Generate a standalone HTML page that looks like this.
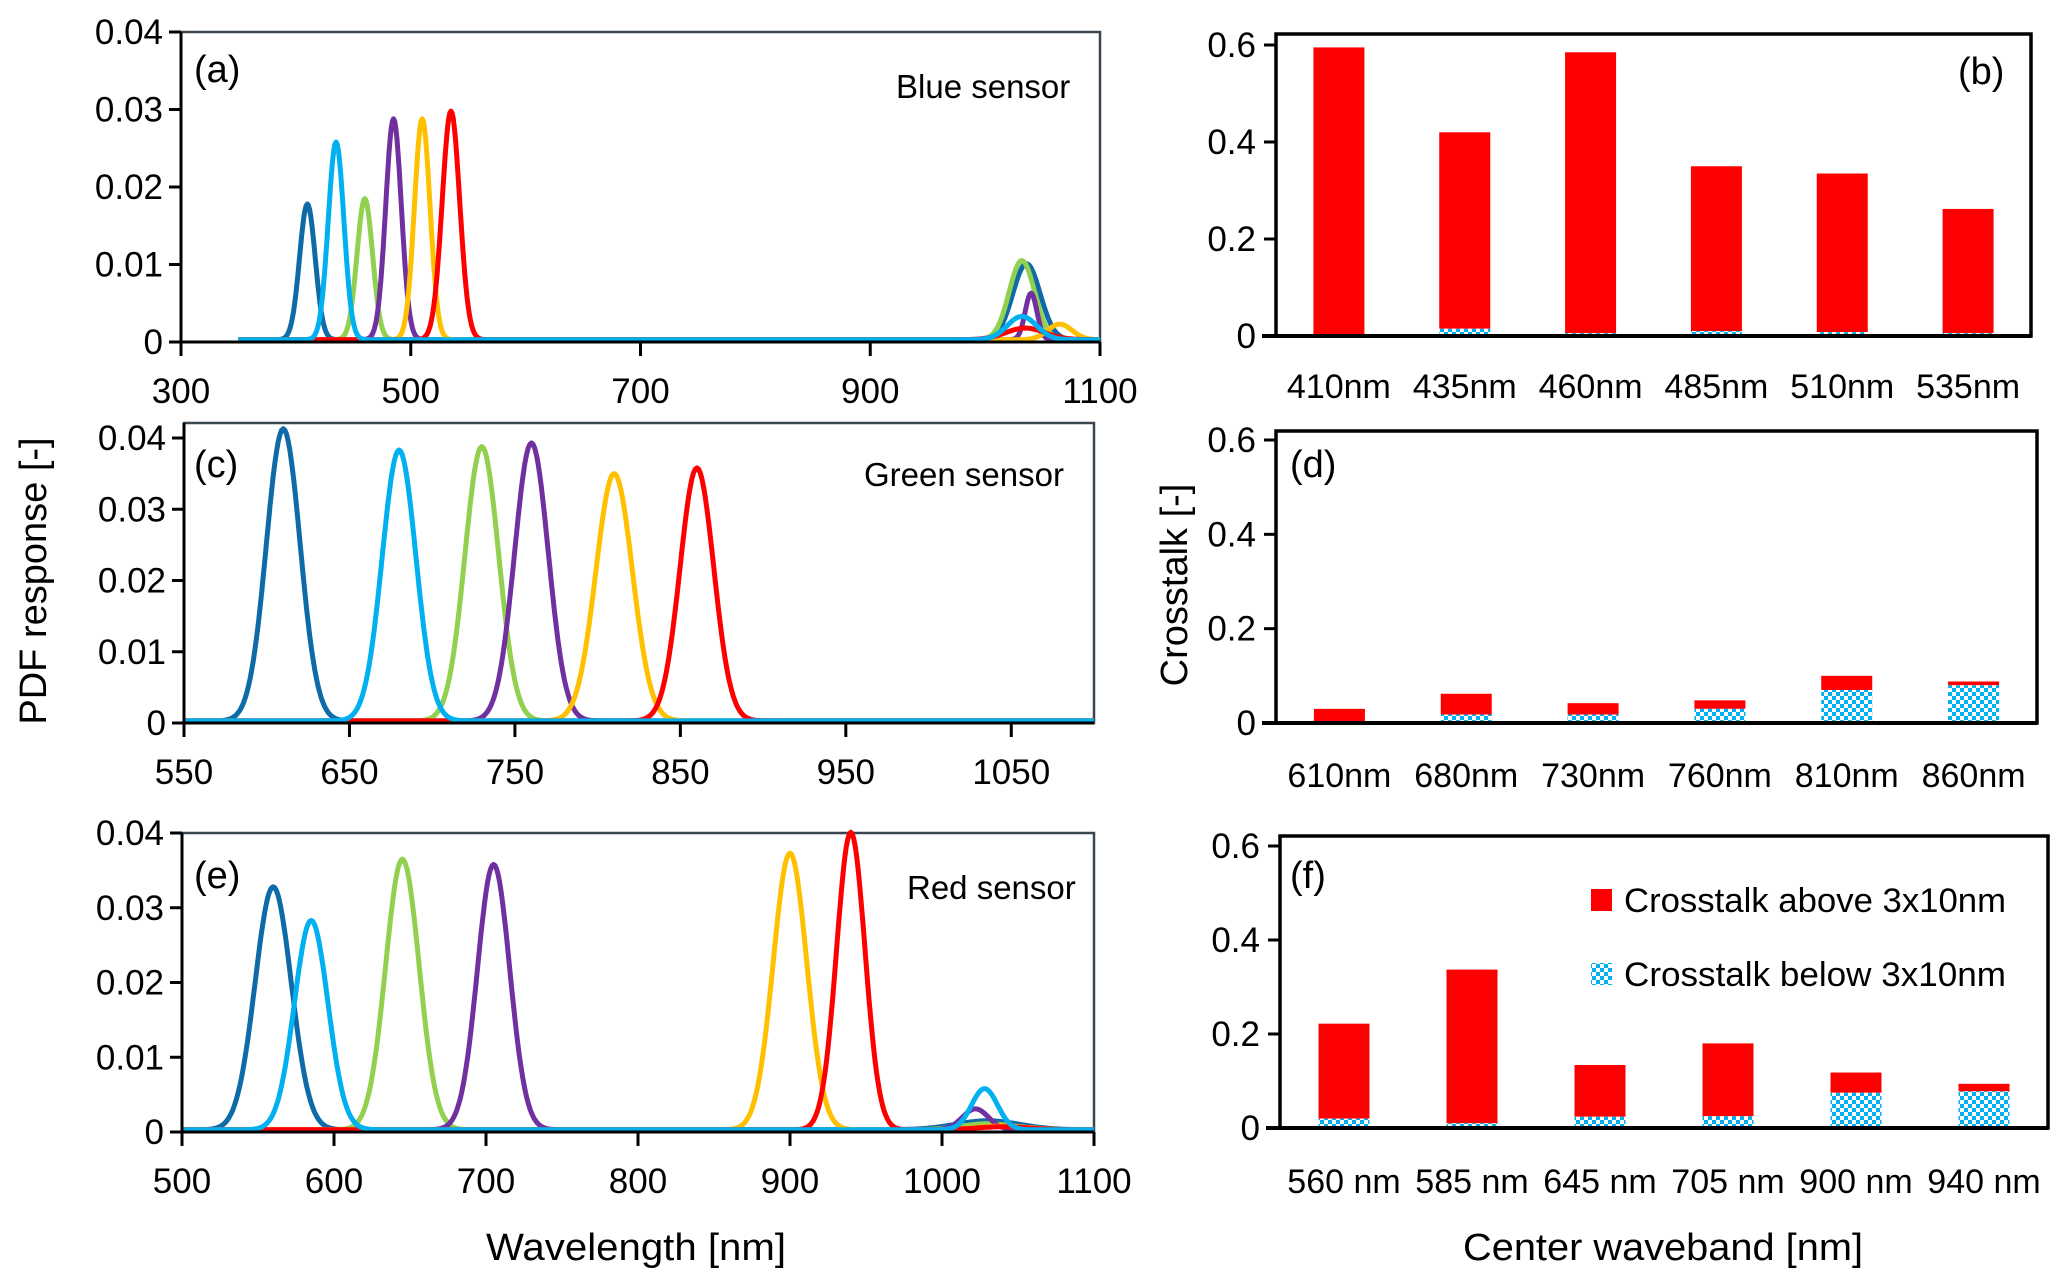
<!DOCTYPE html>
<html><head><meta charset="utf-8">
<style>
html,body{margin:0;padding:0;background:#fff;}
svg{display:block;font-family:"Liberation Sans Narrow","Liberation Sans",sans-serif;}
</style></head>
<body>
<svg id="fig" width="2067" height="1282" viewBox="0 0 2067 1282" xmlns="http://www.w3.org/2000/svg">
<defs>
<pattern id="chk" width="8" height="8" patternUnits="userSpaceOnUse">
<rect width="8" height="8" fill="#fff"/>
<rect width="4" height="4" fill="#00b0f0"/>
<rect x="4" y="4" width="4" height="4" fill="#00b0f0"/>
</pattern>
</defs>
</svg>
<script>
// ---- data: spectral panels ----
const seriesColors = ['#0f6aa8','#00b0f0','#92d050','#7030a0','#ffc000','#ff0000'];
const drawOrder = [0,2,3,4,5,1];
// panel a (blue sensor)
const aCenters = [410,435,460,485,510,535];
const aPeaks = [0.0175,0.0255,0.0182,0.0285,0.0285,0.0295];
const aFwhm = [16,16,16,16,16,18];
const aBumpCenters = [1036,1032,1032,1040,1065,1035];
const aBumpPeaks = [0.0098,0.003,0.0102,0.006,0.002,0.0015];
const aBumpFwhm = [28,30,26,12,25,40];
// panel c (green sensor)
const cCenters = [610,680,730,760,810,860];
const cPeaks = [0.041,0.038,0.0385,0.039,0.0347,0.0355];
const cFwhm = [24,24,24,24,26,24];
// panel e (red sensor)
const eCenters = [560,585,645,705,900,940];
const ePeaks = [0.0325,0.028,0.0362,0.0355,0.037,0.0398];
const eFwhm = [28,26,26,25,26,22];
const eBumpCenters = [1030,1028,1030,1022,1040,1040];
const eBumpPeaks = [0.0012,0.0055,0.0008,0.0028,0.0005,0.0004];
const eBumpFwhm = [50,20,40,20,40,40];
// ---- data: crosstalk bars ----
const bLabels = ['410nm','435nm','460nm','485nm','510nm','535nm'];
const bTotal = [0.595,0.42,0.585,0.35,0.335,0.262];
const bBelow = [0.003,0.015,0.006,0.01,0.008,0.006];
const dLabels = ['610nm','680nm','730nm','760nm','810nm','860nm'];
const dTotal = [0.03,0.062,0.042,0.048,0.1,0.088];
const dBelow = [0.004,0.018,0.018,0.03,0.07,0.08];
const fLabels = ['560 nm','585 nm','645 nm','705 nm','900 nm','940 nm'];
const fTotal = [0.222,0.337,0.134,0.18,0.118,0.094];
const fBelow = [0.02,0.01,0.024,0.025,0.075,0.078];
const lineTicksA = [300,500,700,900,1100];
const lineTicksC = [550,650,750,850,950,1050];
const lineTicksE = [500,600,700,800,900,1000,1100];
const yTicksLine = [0,0.01,0.02,0.03,0.04];
const yTicksBar = [0,0.2,0.4,0.6];

const NS='http://www.w3.org/2000/svg';
const svg=document.getElementById('fig');
function el(tag,attrs,parent){const e=document.createElementNS(NS,tag);for(const k in attrs)e.setAttribute(k,attrs[k]);(parent||svg).appendChild(e);return e;}
function txt(s,x,y,size,anchor,parent,extra){const t=el('text',Object.assign({x:x,y:y,'font-size':size,'text-anchor':anchor||'start',fill:'#000'},extra||{}),parent);t.textContent=s;return t;}

function linePanel(name,box,xmin,xmax,ymax,xTicks,centers,peaks,fwhm,bc,bp,bf,startX,label,sensor,sensorPos,labelPos){
  const g=el('g',{});
  
  
  const X=v=>box.l+(v-xmin)/(xmax-xmin)*(box.r-box.l);
  const Y=v=>box.b-v/ymax*(box.b-box.t0);
  el('rect',{x:box.l,y:box.top,width:box.r-box.l,height:box.b-box.top,fill:'none',stroke:'#3a4750','stroke-width':2.5},g);
  const sg=el('g',{},g);
  drawOrder.forEach(i=>{
    let d='';
    for(let w=startX;w<=xmax;w+=1){
      let s=fwhm[i]/2.355;
      let v=peaks[i]*Math.exp(-0.5*Math.pow((w-centers[i])/s,2));
      if(bc){let s2=bf[i]/2.355;v+=bp[i]*Math.exp(-0.5*Math.pow((w-bc[i])/s2,2));}
      v+=0.0003;
      d+=(d?'L':'M')+X(w).toFixed(1)+','+Y(v).toFixed(1);
    }
    const p=el('path',{d:d,fill:'none',stroke:seriesColors[i],'stroke-width':5,'stroke-linejoin':'round'},sg);
    
    
  });
  el('line',{x1:box.l,y1:box.top,x2:box.l,y2:box.b+14,stroke:'#000','stroke-width':3},g);
  el('line',{x1:box.l-12,y1:box.b,x2:box.r,y2:box.b,stroke:'#000','stroke-width':3},g);
  yTicksLine.forEach(v=>{
    el('line',{x1:box.l-12,y1:Y(v),x2:box.l,y2:Y(v),stroke:'#000','stroke-width':3},g);
    const t=txt(v===0?'0':v.toFixed(2),box.l-18,Y(v)+12,35,'end',g);
    
    
  });
  xTicks.forEach(v=>{
    el('line',{x1:X(v),y1:box.b,x2:X(v),y2:box.b+14,stroke:'#000','stroke-width':3},g);
    const t=txt(String(v),X(v),box.b+61,35,'middle',g);
    
    
  });
  const pl=txt(label,labelPos[0],labelPos[1],38,'start',g);
  
  
  const sl=txt(sensor,sensorPos[0],sensorPos[1],33,'start',g);
  
  
}

function barPanel(name,box,labels,total,below,label,labelPos,labelY){
  const g=el('g',{});
  
  
  const step=(box.r-box.l)/labels.length;
  const Y=v=>box.b-v/0.6*(box.b-box.t0);
  const bw=51;
  labels.forEach((lab,i)=>{
    const cx=box.l+step*(i+0.5);
    const r=el('rect',{x:cx-bw/2,y:Y(total[i]),width:bw,height:Y(below[i])-Y(total[i]),fill:'#ff0000'},g);
    
    
    const r2=el('rect',{x:cx-bw/2,y:Y(below[i]),width:bw,height:box.b-Y(below[i]),fill:'url(#chk)'},g);
    
    
    const t=txt(lab,cx,labelY,34,'middle',g);
    
    
  });
  el('rect',{x:box.l,y:box.top,width:box.r-box.l,height:box.b-box.top,fill:'none',stroke:'#000','stroke-width':3.5},g);
  el('line',{x1:box.l-14,y1:box.b,x2:box.r,y2:box.b,stroke:'#000','stroke-width':4},g);
  yTicksBar.forEach(v=>{
    el('line',{x1:box.l-12,y1:Y(v),x2:box.l,y2:Y(v),stroke:'#000','stroke-width':3},g);
    const t=txt(v===0?'0':v.toFixed(1),box.l-20,Y(v)+12,35,'end',g);
    
    
  });
  const pl=txt(label,labelPos[0],labelPos[1],38,'start',g);
  
  
}

linePanel('panel-a-blue-sensor',{l:181,r:1100,top:32,t0:32,b:342},300,1100,0.04,lineTicksA,aCenters,aPeaks,aFwhm,aBumpCenters,aBumpPeaks,aBumpFwhm,350,'(a)','Blue sensor',[896,98],[194,82]);
linePanel('panel-c-green-sensor',{l:184,r:1094,top:423,t0:438,b:723},550,1100,0.04,lineTicksC,cCenters,cPeaks,cFwhm,null,null,null,550,'(c)','Green sensor',[864,486],[194,477]);
linePanel('panel-e-red-sensor',{l:182,r:1094,top:833,t0:833,b:1132},500,1100,0.04,lineTicksE,eCenters,ePeaks,eFwhm,eBumpCenters,eBumpPeaks,eBumpFwhm,500,'(e)','Red sensor',[907,899],[194,888]);

barPanel('panel-b-blue-crosstalk',{l:1276,r:2031,top:34,t0:45,b:336},bLabels,bTotal,bBelow,'(b)',[1958,84],398);
barPanel('panel-d-green-crosstalk',{l:1276,r:2037,top:431,t0:440,b:723},dLabels,dTotal,dBelow,'(d)',[1290,477],787);
barPanel('panel-f-red-crosstalk',{l:1280,r:2048,top:836,t0:846,b:1128},fLabels,fTotal,fBelow,'(f)',[1290,888],1193);

const lg=el('g',{});


const l1=el('rect',{x:1591,y:889,width:21,height:22,fill:'#ff0000'},lg);


const lt1=txt('Crosstalk above 3x10nm',1624,912,34,'start',lg,{textLength:382,lengthAdjust:'spacingAndGlyphs'});


const l2=el('rect',{x:1591,y:963,width:21,height:22,fill:'url(#chk)'},lg);


const lt2=txt('Crosstalk below 3x10nm',1624,986,34,'start',lg,{textLength:382,lengthAdjust:'spacingAndGlyphs'});



const t1=txt('PDF response [-]',0,0,38,'middle',null,{transform:'translate(46,581) rotate(-90)'});


const t2=txt('Crosstalk [-]',0,0,38,'middle',null,{transform:'translate(1187,585) rotate(-90)'});


const t3=txt('Wavelength [nm]',636,1260,38,'middle',null,{textLength:300,lengthAdjust:'spacingAndGlyphs'});


const t4=txt('Center waveband [nm]',1663,1260,38,'middle',null,{textLength:400,lengthAdjust:'spacingAndGlyphs'});


</script>
</body></html>
